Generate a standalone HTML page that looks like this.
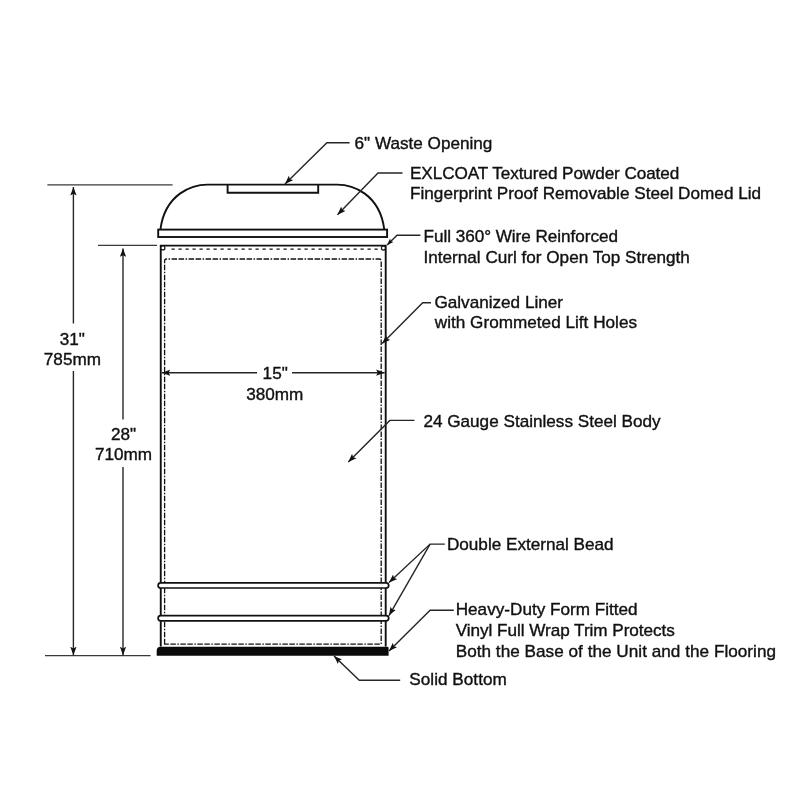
<!DOCTYPE html>
<html>
<head>
<meta charset="utf-8">
<title>Waste Receptacle Specification Diagram</title>
<style>
  html, body { margin: 0; padding: 0; background: #fff; }
  body { width: 800px; height: 800px; overflow: hidden; }
  svg { display: block; will-change: transform; filter: grayscale(1); }
  text { font-family: "Liberation Sans", sans-serif; font-size: 17.15px; fill: #111; stroke: #111; stroke-width: 0.38px; }
</style>
</head>
<body>
<svg width="800" height="800" viewBox="0 0 800 800">
  <defs>
    <marker id="ah" viewBox="0 0 10 8" refX="10" refY="4" markerWidth="8.5" markerHeight="6.8" markerUnits="userSpaceOnUse" orient="auto">
      <path d="M10 4 L0 0.3 L2 4 L0 7.7 Z" fill="#111"/>
    </marker>
    <marker id="ah2" viewBox="0 0 10 8" refX="10" refY="4" markerWidth="6.6" markerHeight="5.6" markerUnits="userSpaceOnUse" orient="auto">
      <path d="M10 4 L0 0.3 L2 4 L0 7.7 Z" fill="#111"/>
    </marker>
    <marker id="as" viewBox="0 0 10 8" refX="0" refY="4" markerWidth="8.5" markerHeight="6.8" markerUnits="userSpaceOnUse" orient="auto">
      <path d="M0 4 L10 0.3 L7.4 4 L10 7.7 Z" fill="#111"/>
    </marker>
  </defs>
  <rect width="800" height="800" fill="#fff"/>

  <!-- ===== Receptacle drawing ===== -->
  <g fill="none" stroke="#111" stroke-width="1.9" stroke-linejoin="miter">
    <!-- dome -->
    <path d="M160.4 229.5 C165.2 193 193 184.6 207.5 184.6 L337.2 184.6 C351.7 184.6 379.5 193 384.3 229.5"/>
    <!-- waste opening -->
    <path d="M227.6 184.6 V192.7 H318.2 V184.6"/>
    <!-- rim -->
    <rect x="158.2" y="229.6" width="228.9" height="7.4"/>
    <!-- body -->
    <path d="M160.75 646.5 V245.6 H385.7 V646.5"/>
  </g>

  <!-- curls -->
  <g fill="#fff" stroke="#111" stroke-width="1.15">
    <circle cx="162.9" cy="247.9" r="2"/>
    <circle cx="383.4" cy="248.1" r="2"/>
  </g>

  <!-- dashed top line -->
  <path d="M171.5 249.2 H380" fill="none" stroke="#111" stroke-width="1.3" stroke-dasharray="3.2 3.8"/>
  <!-- liner dash-dot -->
  <path d="M164.6 644.2 V261 Q164.6 259 166.6 259 H379.2 Q381.2 259 381.2 261 V644.2 Z" fill="none" stroke="#111" stroke-width="1.3" stroke-dasharray="5.5 1.5 5.5 1.5 1.5 1.5"/>

  <!-- beads -->
  <g fill="#fff" stroke="#111" stroke-width="1.7">
    <rect x="158.1" y="582.8" width="230.6" height="5.2" rx="2.6"/>
    <rect x="158.1" y="615.6" width="230.6" height="5.2" rx="2.6"/>
  </g>

  <!-- base -->
  <path d="M156.7 655.8 V650.4 Q156.9 646.7 160.6 646.7 H387.4 Q388.5 646.7 388.6 647.9 V655.8 Z" fill="#0a0a0a"/>

  <!-- ===== Dimension lines ===== -->
  <g fill="none" stroke="#262626" stroke-width="1.4">
    <path d="M47.4 184.9 H172.6" stroke="#3a3a3a" stroke-width="1.25"/>
    <path d="M98 245.3 H157" stroke="#3a3a3a" stroke-width="1.25"/>
    <path d="M45 655.6 H150.6" stroke="#3a3a3a" stroke-width="1.25"/>
    <path d="M73.4 323.5 V187" marker-end="url(#ah)"/>
    <path d="M73.4 371 V655.2" marker-end="url(#ah)"/>
    <path d="M123 419.5 V248.4" marker-end="url(#ah)"/>
    <path d="M123 467 V655.2" marker-end="url(#ah)"/>
    <path d="M257 372.7 H161.8" marker-end="url(#ah)"/>
    <path d="M292 372.7 H384.6" marker-end="url(#ah)"/>
  </g>

  <!-- ===== Leaders ===== -->
  <g fill="none" stroke="#262626" stroke-width="1.4">
    <path d="M349.6 142.7 H326.9 L285 183.9" marker-end="url(#ah)"/>
    <path d="M402.5 173 H378 L337.5 214.8" marker-end="url(#ah)"/>
    <path d="M420.4 235.2 H397 L387.1 244.9" marker-end="url(#ah2)"/>
    <path d="M431 302.8 H422.7 L382.2 343.6" marker-end="url(#ah)"/>
    <path d="M414.5 420.4 H389.8 L348.3 462" marker-end="url(#ah)"/>
    <path d="M444.8 544.1 H430.1 L389 582.6" marker-end="url(#ah)"/>
    <path d="M430.1 544.1 L389 615.6" marker-end="url(#ah)"/>
    <path d="M453.8 610.3 H430.1 L389 651" marker-end="url(#ah)"/>
    <path d="M400.2 680.2 H359.3 L334 655.9" marker-end="url(#ah)"/>
  </g>

  <!-- ===== Text ===== -->
  <text x="354.5" y="148.6">6" Waste Opening</text>
  <text x="410" y="178.5" textLength="269.30">EXLCOAT Textured Powder Coated</text>
  <text x="410" y="198.7" textLength="351.11">Fingerprint Proof Removable Steel Domed Lid</text>
  <text x="423.5" y="242.2" textLength="194.48">Full 360° Wire Reinforced</text>
  <text x="423.5" y="263" textLength="266.27">Internal Curl for Open Top Strength</text>
  <text x="434.4" y="307.8" textLength="128.64">Galvanized Liner</text>
  <text x="434.8" y="328.4" textLength="202.25">with Grommeted Lift Holes</text>
  <text x="423.4" y="426.5">24 Gauge Stainless Steel Body</text>
  <text x="446.9" y="549.5" textLength="166.77">Double External Bead</text>
  <text x="455.7" y="615.2" textLength="181.92">Heavy-Duty Form Fitted</text>
  <text x="455.7" y="635.7" textLength="219.14">Vinyl Full Wrap Trim Protects</text>
  <text x="455.7" y="656.9" textLength="320.32">Both the Base of the Unit and the Flooring</text>
  <text x="409.3" y="685.2" textLength="97.49">Solid Bottom</text>

  <text x="275.2" y="379" text-anchor="middle">15"</text>
  <text x="274.8" y="400" text-anchor="middle">380mm</text>
  <text x="72.3" y="344.5" text-anchor="middle">31"</text>
  <text x="72.4" y="365" text-anchor="middle">785mm</text>
  <text x="123.5" y="439.5" text-anchor="middle">28"</text>
  <text x="123.5" y="460" text-anchor="middle">710mm</text>
</svg>
</body>
</html>
